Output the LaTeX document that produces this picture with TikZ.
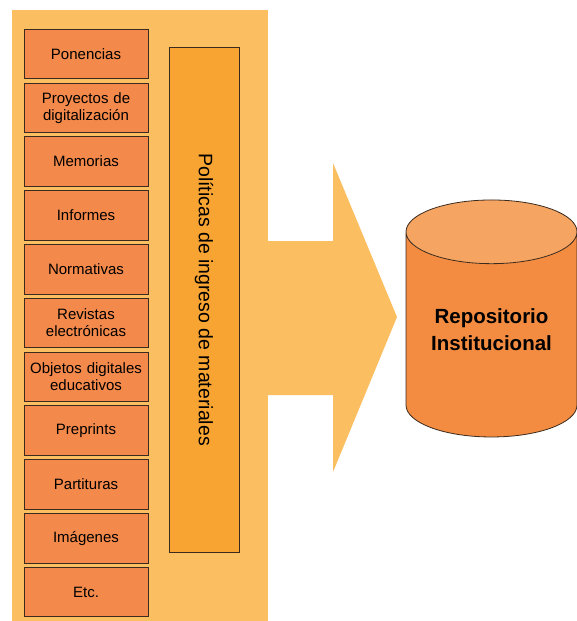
\documentclass[tikz,border=0pt]{standalone}
\usepackage{fontspec}
\setmainfont{Liberation Sans}
\usetikzlibrary{positioning,shapes.geometric}
\definecolor{panel-bg}{HTML}{FBBE60}
\definecolor{item-fill}{HTML}{F3894A}
\definecolor{policy-fill}{HTML}{F8A432}
\definecolor{repo-body}{HTML}{F38C40}
\definecolor{repo-top}{HTML}{F5A462}
\definecolor{edge-dark}{HTML}{3B2B1E}

\begin{document}
\begin{tikzpicture}[
  x=1pt, y=-1pt,
  node distance=3.5pt,
  item/.style={
    rectangle, draw=edge-dark, line width=0.8pt, fill=item-fill,
    minimum width=124pt, minimum height=49.5pt,
    text width=120pt, inner sep=0pt, align=center,
    font=\fontsize{15}{17}\selectfont
  },
  policy/.style={
    rectangle, draw=edge-dark, line width=0.8pt, fill=policy-fill,
    minimum width=505pt, minimum height=70pt, rotate=-90,
    inner sep=0pt, font=\fontsize{19.5}{22}\selectfont
  },
  repo/.style={
    cylinder, shape border rotate=90, aspect=0.5,
    draw=edge-dark, line width=0.8pt,
    cylinder uses custom fill, cylinder body fill=repo-body,
    cylinder end fill=repo-top,
    minimum width=171pt, minimum height=237pt,
    font=\bfseries\fontsize{20.5}{27}\selectfont
  }
]
\useasboundingbox (0,0) rectangle (577,621);
\fill[white] (0,0) rectangle (577,621);

%% Panel and big arrow
\fill[panel-bg] (12,10) rectangle (268,621);
\fill[panel-bg] (268,241) -- (333,241) -- (333,163) -- (397,317)
  -- (333,472) -- (333,395) -- (268,395) -- cycle;

%% Material types
\node[item] (ponencias) at (86,54) {Ponencias};
\node[item, below=of ponencias] (proyectos) {Proyectos de\\digitalización};
\node[item, below=of proyectos] (memorias) {Memorias};
\node[item, below=of memorias] (informes) {Informes};
\node[item, below=of informes] (normativas) {Normativas};
\node[item, below=of normativas] (revistas) {Revistas\\electrónicas};
\node[item, below=of revistas] (objetos) {Objetos digitales\\educativos};
\node[item, below=of objetos] (preprints) {Preprints};
\node[item, below=of preprints] (partituras) {Partituras};
\node[item, below=of partituras] (imagenes) {Imágenes};
\node[item, below=of imagenes] (etc) {Etc.};

%% Policies
\node[policy] (politicas) at (204,299.5) {Políticas de ingreso de materiales};

%% Repository
\node[repo] (repositorio) at (491.5,339)
  {\raisebox{7pt}[\height][\depth]{\begin{tabular}{@{}c@{}}Repositorio\\Institucional\end{tabular}}};

\end{tikzpicture}
\end{document}
